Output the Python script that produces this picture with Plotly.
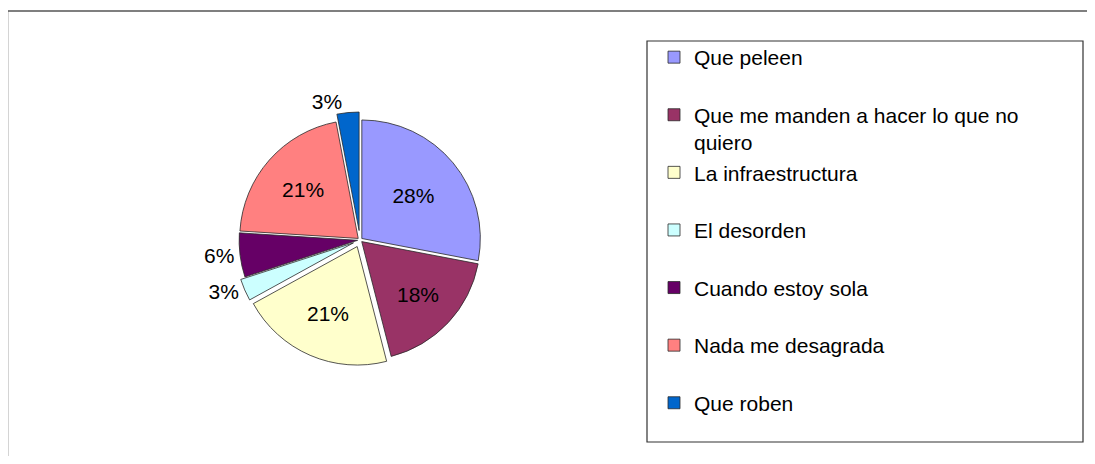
import plotly.graph_objects as go

categories = [
    "Que peleen",
    "Que me manden a hacer lo que no<br>quiero",
    "La infraestructura",
    "El desorden",
    "Cuando estoy sola",
    "Nada me desagrada",
    "Que roben",
]
values = [28, 18, 21, 3, 6, 21, 3]
colors = ["#9999FF", "#993366", "#FFFFCC", "#CCFFFF", "#660066", "#FF8080", "#0066CC"]
pulls = [0.02, 0.02, 0.06, 0.06, 0.02, 0.02, 0.08]
text_pos = ["inside", "inside", "inside", "outside", "outside", "inside", "outside"]

# legend entries: single-line labels get an empty second line so every entry is two lines tall
legend_labels = [c if "<br>" in c else c + "<br> " for c in categories]

# the page body has an 8px margin, so the figure is drawn 8px in from the window corner
OFF = 8
W, H = 1095 - 2 * OFF, 464 - 2 * OFF
FONT = "Liberation Sans, Arial, sans-serif"


def px(x):
    return (x - OFF) / W


def py(y):
    return 1 - (y - OFF) / H


# pie placement (window pixels)
cx, cy, half = 360, 240, 128
fig = go.Figure(
    go.Pie(
        labels=legend_labels,
        values=values,
        sort=False,
        direction="clockwise",
        rotation=0,
        pull=pulls,
        marker=dict(colors=colors, line=dict(color="#2a2a2a", width=0.8)),
        texttemplate="%{percent:.0%}",
        textposition=text_pos,
        insidetextorientation="horizontal",
        textfont=dict(family=FONT, size=21, color="black"),
        hoverinfo="label+percent",
        domain=dict(x=[px(cx - half), px(cx + half)], y=[py(cy + half), py(cy - half)]),
    )
)

fig.update_layout(
    width=W,
    height=H,
    margin=dict(l=0, r=0, t=0, b=0),
    paper_bgcolor="white",
    plot_bgcolor="white",
    font=dict(family=FONT, size=21, color="black"),
    showlegend=True,
    legend=dict(
        x=px(654),
        y=py(37),
        xanchor="left",
        yanchor="top",
        bgcolor="rgba(0,0,0,0)",
        borderwidth=0,
        valign="top",
        font=dict(family=FONT, size=21, color="black"),
        itemwidth=30,
    ),
    shapes=[
        # outer chart frame
        dict(type="rect", xref="paper", yref="paper",
             x0=px(7.5), x1=1.05, y0=-0.05, y1=py(11),
             line=dict(color="#555555", width=1.5), layer="below"),
        # legend frame
        dict(type="rect", xref="paper", yref="paper",
             x0=px(647), x1=px(1083), y0=py(442), y1=py(41),
             line=dict(color="#333333", width=1.2), fillcolor="white", layer="below"),
    ],
)

fig.write_html("out.html")
